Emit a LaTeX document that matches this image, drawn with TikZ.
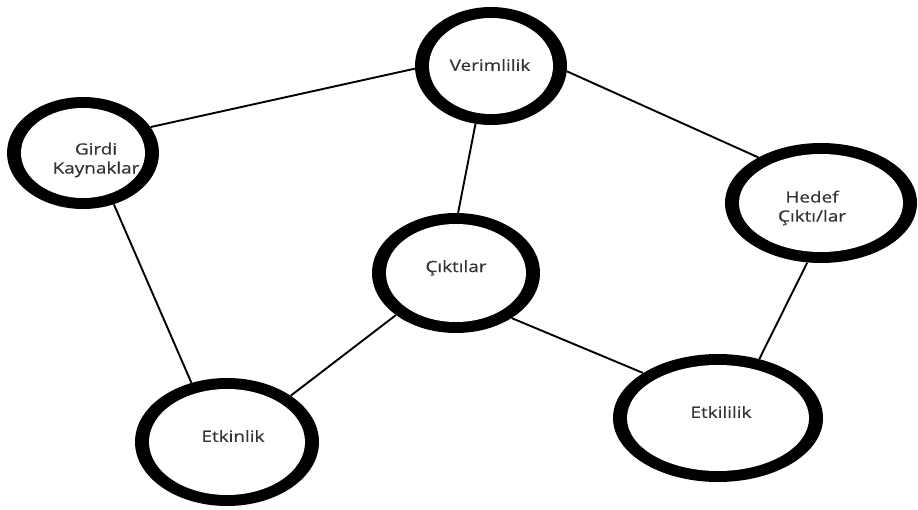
\documentclass[tikz,border=0pt]{standalone}
\usepackage{fontspec}
\setmainfont[FakeStretch=1.22,FakeBold=0.4]{Open Sans}
\usetikzlibrary{shapes.geometric}
\definecolor{txt}{HTML}{333333}
\pgfdeclarelayer{bg}
\pgfsetlayers{bg,main}
\tikzset{
  ring/.style={ellipse, fill=black, draw=none, inner sep=0pt},
  hole/.style={ellipse, fill=white, draw=none, inner sep=0pt},
  lbl/.style={text=txt, align=center, inner sep=0pt, font=\fontsize{15.5}{19}\selectfont},
  link/.style={draw=black, line width=1.9pt}
}
\begin{document}
\begin{tikzpicture}[x=1pt,y=-1pt]
\useasboundingbox (0,0) rectangle (918,510);
% Girdi Kaynaklari
\node[ring, minimum width=152pt, minimum height=112pt] (girdi) at (83,153) {};
\node[hole, minimum width=124pt, minimum height=90pt] (girdiIn) at (girdi.center) {};
\node[lbl] (girdiT) at (96,160) {Girdi\\Kaynaklar};
% Verimlilik
\node[ring, minimum width=152pt, minimum height=118pt] (verim) at (491,66) {};
\node[hole, minimum width=124pt, minimum height=96pt] (verimIn) at (verim.center) {};
\node[lbl] (verimT) at (490,65) {Verimlilik};
% Hedef Ciktilar
\node[ring, minimum width=192pt, minimum height=120pt] (hedef) at (821,203) {};
\node[hole, minimum width=164pt, minimum height=98pt] (hedefIn) at (hedef.center) {};
\node[lbl] (hedefT) at (812,208) {Hedef\\Çıktı/lar};
% Ciktilar
\node[ring, minimum width=168pt, minimum height=120pt] (cikti) at (456,273) {};
\node[hole, minimum width=140pt, minimum height=98pt] (ciktiIn) at (cikti.center) {};
\node[lbl] (ciktiT) at (456,268) {Çıktılar};
% Etkinlik
\node[ring, minimum width=184pt, minimum height=128pt] (etkin) at (227,442) {};
\node[hole, minimum width=156pt, minimum height=106pt] (etkinIn) at (etkin.center) {};
\node[lbl] (etkinT) at (233,436) {Etkinlik};
% Etkililik
\node[ring, minimum width=210pt, minimum height=128pt] (etkili) at (718,418) {};
\node[hole, minimum width=182pt, minimum height=106pt] (etkiliIn) at (etkili.center) {};
\node[lbl] (etkiliT) at (721,412) {Etkililik};
\begin{pgfonlayer}{bg}
\draw[link] (girdi.21.5) -- (verim.182);
\draw[link] (verim.-4.6) -- (hedef.144.8);
\draw[link] (verim.-105) -- (cikti.88);
\draw[link] (girdi.-59) -- (etkin.121.8);
\draw[link] (cikti.215.8) -- (etkin.36.4);
\draw[link] (cikti.-39.3) -- (etkili.149.7);
\draw[link] (hedef.-103.8) -- (etkili.55.9);
\end{pgfonlayer}
\end{tikzpicture}
\end{document}
